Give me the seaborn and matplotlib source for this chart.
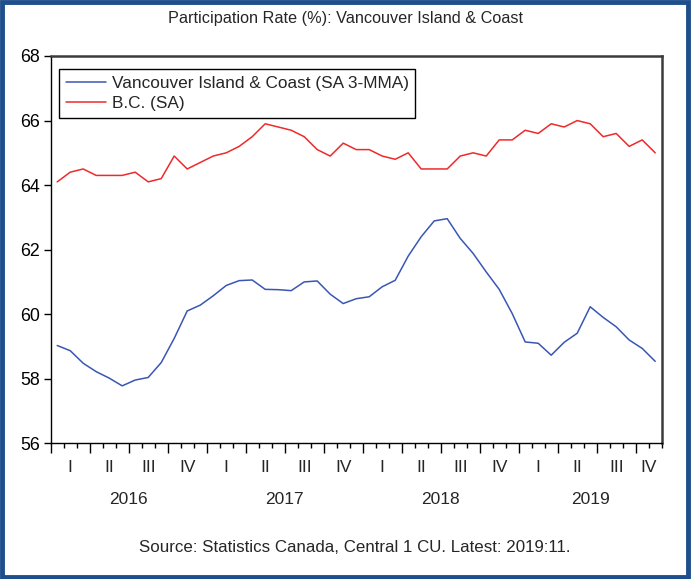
import matplotlib
matplotlib.use("Agg")
import matplotlib.pyplot as plt
import matplotlib.patches as mpatches
import matplotlib.transforms as mtransforms
import numpy as np
import pandas as pd
import seaborn as sns

# ---- data (monthly, Jan 2016 .. Nov 2019) ----
months = pd.period_range("2016-01", "2019-11", freq="M").astype(str).tolist()
vic_island = [59.03, 58.87, 58.48, 58.22, 58.02, 57.78, 57.96, 58.04, 58.50, 59.25,
              60.10, 60.28, 60.57, 60.89, 61.04, 61.06, 60.77, 60.76, 60.73, 61.00,
              61.03, 60.62, 60.33, 60.48, 60.54, 60.85, 61.05, 61.80, 62.40, 62.89,
              62.96, 62.35, 61.88, 61.31, 60.77, 60.02, 59.14, 59.10, 58.73, 59.13,
              59.41, 60.23, 59.90, 59.61, 59.20, 58.94, 58.54]
bc = [64.1, 64.4, 64.5, 64.3, 64.3, 64.3, 64.4, 64.1, 64.2, 64.9,
      64.5, 64.7, 64.9, 65.0, 65.2, 65.5, 65.9, 65.8, 65.7, 65.5,
      65.1, 64.9, 65.3, 65.1, 65.1, 64.9, 64.8, 65.0, 64.5, 64.5,
      64.5, 64.9, 65.0, 64.9, 65.4, 65.4, 65.7, 65.6, 65.9, 65.8,
      66.0, 65.9, 65.5, 65.6, 65.2, 65.4, 65.0]
series_names = ["Vancouver Island & Coast (SA 3-MMA)", "B.C. (SA)"]
quarter_labels = ["I", "II", "III", "IV"]
years = ["2016", "2017", "2018", "2019"]
y_ticks = [56, 58, 60, 62, 64, 66, 68]

title = "Participation Rate (%): Vancouver Island & Coast"
source = "Source: Statistics Canada, Central 1 CU. Latest: 2019:11."

# ---- style ----
sns.set_style("ticks")
plt.rcParams["font.family"] = ["Liberation Sans", "DejaVu Sans"]

W, H = 691, 579
fig = plt.figure(figsize=(W / 100, H / 100), dpi=100)
fig.patch.set_facecolor("white")

ax_l, ax_r, ax_t, ax_b = 50.7, 661.7, 56.0, 443.3
ax = fig.add_axes([ax_l / W, 1 - ax_b / H, (ax_r - ax_l) / W, (ax_b - ax_t) / H])

n = len(months)
idx = np.arange(n)
df = pd.DataFrame({
    "t": np.concatenate([idx, idx]),
    "value": vic_island + bc,
    "series": [series_names[0]] * n + [series_names[1]] * n,
})
palette = {series_names[0]: "#3a56b4", series_names[1]: "#ee2a2a"}
sns.lineplot(data=df, x="t", y="value", hue="series", palette=palette,
             linewidth=1.1, ax=ax, legend=True)

ax.set_xlim(-0.5, n - 0.5)
ax.set_ylim(56, 68)
ax.set_xlabel("")
ax.set_ylabel("")
ax.set_yticks(y_ticks)
ax.set_yticklabels([str(v) for v in y_ticks], fontsize=12.8)
ax.tick_params(axis="y", direction="out", length=5, width=1, pad=3, colors="black")

# month boundary ticks (minor), quarter boundary ticks (major)
bounds = np.arange(-0.5, n, 1.0)
major = [b for b in bounds if int(round(b + 0.5)) % 3 == 0]
ax.set_xticks(major)
ax.set_xticklabels([])
ax.set_xticks(bounds, minor=True)
ax.tick_params(axis="x", which="major", direction="out", length=7, width=1, color="black")
ax.tick_params(axis="x", which="minor", direction="out", length=3.5, width=1, color="black")

for side in ["left", "bottom"]:
    ax.spines[side].set_color("black")
    ax.spines[side].set_linewidth(1.0)
for side in ["top", "right"]:
    ax.spines[side].set_visible(True)
    ax.spines[side].set_color("#3c3c3c")
    ax.spines[side].set_linewidth(1.8)

# quarter / year labels
trans = mtransforms.blended_transform_factory(ax.transData, fig.transFigure)
xmax = n - 0.5
for yi, yr in enumerate(years):
    for qi, ql in enumerate(quarter_labels):
        s = yi * 12 + qi * 3 - 0.5
        e = min(s + 3, xmax)
        if s >= xmax:
            continue
        ax.text((s + e) / 2, 1 - 467 / H, ql, transform=trans, ha="center",
                va="center", fontsize=12.5)
    s = yi * 12 - 0.5
    e = min(s + 12, xmax)
    ax.text((s + e) / 2, 1 - 500 / H, yr, transform=trans, ha="center",
            va="center", fontsize=12.5)

fig.text(0.5, 1 - 18 / H, title, ha="center", va="center", fontsize=11.7)
fig.text(355 / W, 1 - 547 / H, source, ha="center", va="center", fontsize=12.2)

# legend
leg = ax.legend(loc="upper left", bbox_to_anchor=((59 - ax_l) / (ax_r - ax_l), 1 - (69 - ax_t) / (ax_b - ax_t)),
                frameon=True, fancybox=False, framealpha=1, edgecolor="black",
                fontsize=12.4, handlelength=2.3, handletextpad=0.35, borderpad=0.4,
                labelspacing=0.3, borderaxespad=0)
leg.get_frame().set_linewidth(1.0)
leg.set_title(None)

# blue frame around the figure
fig.patches.append(mpatches.Rectangle((1.5 / W, 2.5 / H), 1 - 5 / W, 1 - 4 / H,
                                      transform=fig.transFigure, fill=False,
                                      edgecolor="#1f4e8c", linewidth=3.5))

fig.savefig("out.png", dpi=100)
